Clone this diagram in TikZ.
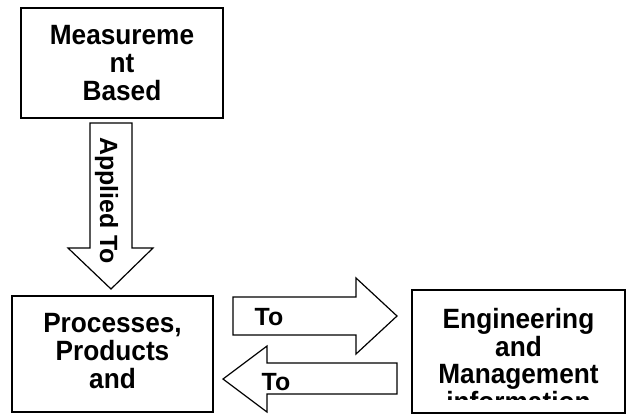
\documentclass[tikz,border=0pt]{standalone}
\usepackage{fontspec}
\setmainfont{Liberation Sans}
\newfontfamily\boxfont[FakeStretch=0.94]{Liberation Sans}
\begin{document}
\begin{tikzpicture}[x=1bp,y=-1bp,
  boxshape/.style={draw=black,line width=1.3bp,rectangle,inner sep=0pt},
  boxtext/.style={align=center,inner sep=0pt,font=\boxfont\fontsize{28}{28}\selectfont\bfseries},
  arrowtext/.style={inner sep=0pt,font=\fontsize{25}{28}\selectfont\bfseries},
  blockarrow/.style={draw=black,line width=1.2bp,line join=miter,fill=white}]
\useasboundingbox (0,0) rectangle (626,414);
% boxes
\node[boxshape,minimum width=202bp,minimum height=110bp] (mb) at (122,63) {};
\node[boxtext] (mbt) at (122,63) {Measureme\\nt\\Based};
\node[boxshape,minimum width=201bp,minimum height=116bp] (ppa) at (112.5,354) {};
\node[boxtext] (ppat) at (112.5,351) {Processes,\\Products\\and};
\node[boxshape,minimum width=213bp,minimum height=123bp] (emi) at (518.5,351.5) {};
\begin{scope}
  \clip (412,290) rectangle (625,399.5);
  \node[boxtext] (emit) at (518.5,360) {Engineering\\and\\Management\\information};
\end{scope}
% down arrow
\coordinate (dtip) at (111,289);
\draw[blockarrow] (90,123) -- (132,123) -- (132,248) -- (153,248) -- (dtip) -- (68,248) -- (90,248) -- cycle;
\node[arrowtext,rotate=-90,anchor=base west] (applied) at (100,137) {Applied To};
% right arrow
\coordinate (rtip) at (397,316);
\draw[blockarrow] (233,297) -- (356,297) -- (356,278) -- (rtip) -- (356,354) -- (356,335) -- (233,335) -- cycle;
\node[arrowtext,anchor=base west] (to1) at (254.5,325) {To};
% left arrow
\coordinate (ltip) at (223,379);
\draw[blockarrow] (397,363) -- (267,363) -- (267,346) -- (ltip) -- (267,412) -- (267,394) -- (397,394) -- cycle;
\node[arrowtext,anchor=base west] (to2) at (261.5,390) {To};
\end{tikzpicture}
\end{document}
